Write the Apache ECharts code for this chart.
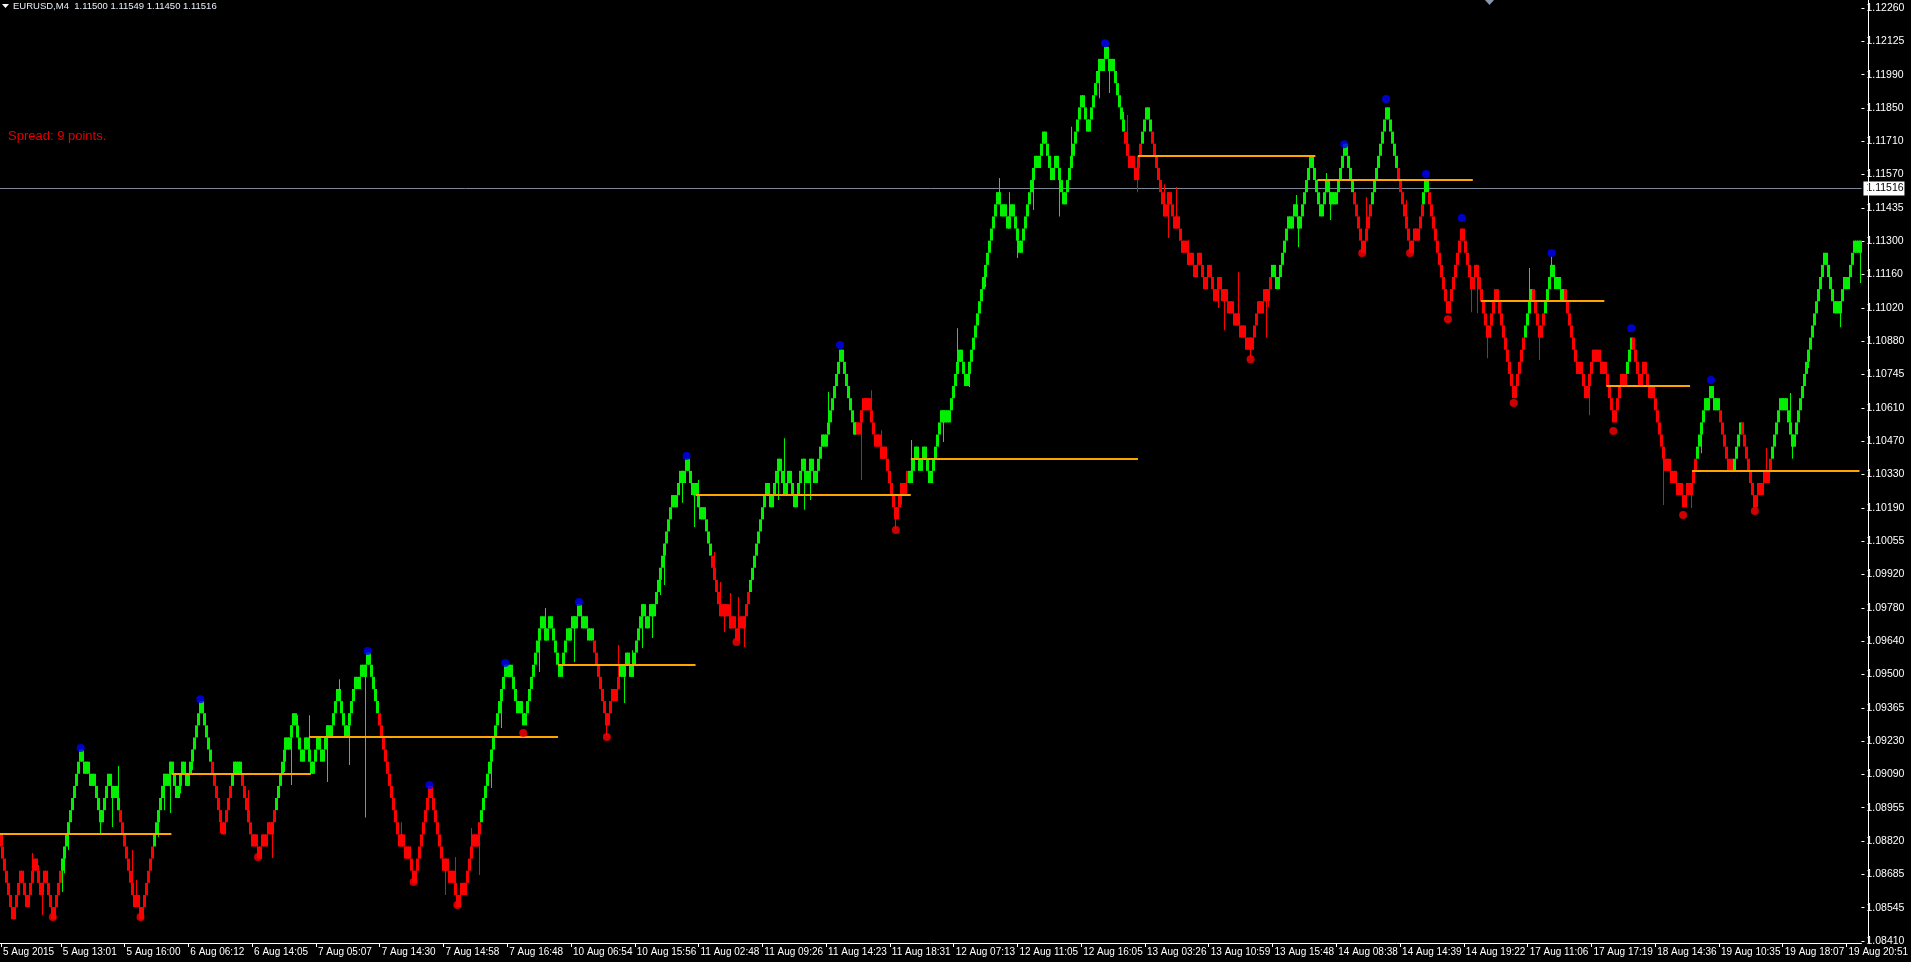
<!DOCTYPE html>
<html><head><meta charset="utf-8">
<script src="https://cdn.jsdelivr.net/npm/echarts@6/dist/echarts.min.js"></script>
<style>html,body{margin:0;padding:0;background:#000;overflow:hidden}#c{width:1911px;height:962px}</style>
</head><body><div id="c"></div>
<script>
// ---------- data ----------
const symbolName = 'EURUSD,M4';
const lastBarOHLC = ['1.11500', '1.11549', '1.11450', '1.11516'];
const spreadText = 'Spread: 9 points.';
const bidPrice = 1.11516;

// renko bricks: level n means price 1.0800 + n * 0.0005 (5-pip box)
const brickBase = 1.0800;
const brickSize = 0.0005;
const firstOpenLevel = 17;
const closeLevels = [
 16,15,14,13,12,11,10,11,12,13,14,13,12,11,12,13,14,15,14,13,12,13,14,13,12,11,10,
 11,12,13,14,15,16,17,18,19,20,21,22,23,24,
 23,22,23,22,21,22,21,20,19,18,19,20,21,22,21,20,21,20,19,18,17,16,15,14,13,12,11,12,11,10,
 11,12,13,14,15,16,17,18,19,20,21,22,21,22,23,22,21,20,21,22,23,22,21,22,23,24,25,26,27,28,
 27,26,25,24,23,22,21,20,19,18,17,18,19,20,21,22,23,22,23,22,21,20,19,18,17,16,17,16,15,16,
 17,16,17,18,17,18,19,20,21,22,23,24,25,24,25,26,27,26,25,24,23,24,25,24,23,22,23,24,25,24,23,24,25,26,25,26,27,28,29,28,27,26,25,26,27,28,29,30,29,30,31,30,31,32,
 31,30,29,28,27,26,25,24,23,22,21,20,19,18,17,16,17,16,15,16,15,14,13,
 14,15,16,17,18,19,20,21,
 20,19,18,17,16,15,14,15,14,13,14,13,12,11,
 12,13,12,13,14,15,16,17,16,17,18,19,20,21,22,23,24,25,26,27,28,29,30,31,
 30,31,30,29,28,27,28,27,26,27,
 28,29,30,31,32,33,34,35,34,33,34,35,34,33,32,31,30,31,32,33,34,33,34,35,34,35,36,
 35,34,35,34,33,34,33,32,31,30,29,28,27,26,
 27,28,29,28,29,30,31,30,31,32,31,30,31,32,33,34,35,36,35,34,35,36,35,36,37,38,39,40,41,42,43,44,45,44,45,46,47,46,47,48,
 47,46,45,46,45,44,43,44,43,42,41,40,39,38,37,36,35,36,35,36,35,34,35,34,33,34,35,34,35,
 36,37,38,39,40,41,42,43,44,45,46,45,44,45,46,47,48,47,46,45,46,47,46,45,44,45,46,47,48,47,46,47,48,47,46,47,48,49,50,49,50,51,52,53,54,55,56,57,
 56,55,54,53,52,51,50,51,50,51,52,53,52,53,52,51,50,49,50,49,48,49,48,47,46,45,44,43,
 44,45,46,45,46,47,46,47,48,49,48,47,48,49,48,47,46,47,48,49,50,51,52,51,52,51,52,53,54,55,56,57,56,55,54,55,56,57,
 58,59,60,61,62,63,64,65,66,67,68,69,70,69,68,69,68,67,68,69,68,67,66,65,66,67,68,69,70,71,72,73,72,73,74,75,
 74,73,72,71,72,73,72,71,70,69,70,71,72,73,74,75,76,77,78,77,76,75,76,77,78,79,80,81,80,81,82,
 81,80,81,80,79,78,77,76,75,74,73,72,73,72,71,72,73,74,75,76,77,76,75,74,73,72,71,70,69,68,69,70,69,68,67,68,67,66,65,
 66,65,64,65,64,63,64,65,64,63,62,63,64,63,62,61,62,63,62,61,62,61,60,61,60,59,60,59,58,59,58,57,58,57,
 58,59,60,61,60,61,62,61,62,63,64,63,62,63,64,65,66,67,68,67,68,69,68,67,68,69,70,71,72,73,72,71,70,69,68,69,70,71,70,69,70,69,70,71,72,73,74,
 73,72,71,70,69,68,67,66,65,66,67,68,69,70,
 71,72,73,74,75,76,77,
 76,75,74,73,72,71,70,69,68,67,66,65,
 66,67,66,67,68,69,70,71,70,
 69,68,67,66,65,64,63,62,61,60,
 61,62,63,64,65,66,67,
 66,65,64,63,62,63,64,63,62,61,60,59,58,59,60,61,62,61,60,59,58,57,56,55,54,53,
 54,55,56,57,58,59,60,61,62,61,60,59,58,59,60,61,62,63,64,
 63,62,63,62,61,62,61,60,59,58,57,56,55,56,55,54,53,54,55,56,57,56,57,56,55,56,55,54,53,52,51,
 52,53,54,55,54,55,56,57,58,
 57,56,55,54,55,56,55,54,53,54,53,52,51,50,49,48,47,48,47,46,47,46,45,46,45,44,
 45,46,45,46,47,48,49,50,51,52,53,52,53,54,
 53,52,53,52,51,50,49,48,47,48,47,48,49,50,51,50,49,48,47,46,45,44,
 45,46,45,46,47,46,47,48,49,50,51,52,53,52,53,52,51,50,49,50,51,52,53,54,55,56,57,58,59,60,61,62,63,64,65,
 64,63,62,61,60,61,60,61,62,63,62,63,64,65,66,65,66,65
];
// bar index where the bar colour flips; starts red (down trend)
const trendChangeBars = [31,60,77,106,116,121,138,190,241,298,311,357,376,430,456,564,573,578,638,679,688,701,714,717,765,769,775,785,816,819,851,863,870,874,889];

// zigzag pivots
const pivotHighBars   = [40, 100, 184, 215, 253, 290, 344, 421, 554, 674, 695, 715, 733, 778, 818, 858];
const pivotHighPrices = [1.09206, 1.09408, 1.09607, 1.09054, 1.09557, 1.09809, 1.10411, 1.10869, 1.12115, 1.11698, 1.11884, 1.11575, 1.11393, 1.11249, 1.10939, 1.10725];
const pivotLowBars    = [26, 70, 129, 207, 229, 262, 304, 369, 449, 627, 683, 707, 726, 759, 809, 844, 880];
const pivotLowPrices  = [1.08509, 1.08509, 1.08757, 1.08653, 1.08559, 1.09268, 1.09252, 1.09644, 1.10106, 1.10811, 1.11249, 1.11249, 1.10976, 1.10630, 1.10514, 1.10168, 1.10184];

// orange horizontal levels
const levelStartBars = [0, 86, 155, 280, 349, 457, 571, 661, 743, 806, 849];
const levelEndBars   = [85, 155, 279, 348, 456, 570, 659, 738, 804, 847, 932];
const levelPrices    = [1.0885, 1.0910, 1.0925, 1.0955, 1.1025, 1.1040, 1.1165, 1.1155, 1.1105, 1.1070, 1.1035];

// visible wicks (bar index, wick end price)
const wickBars = [16,19,21,31,32,34,50,56,59,66,68,79,82,85,90,96,
 110,124,136,142,146,149,155,164,170,175,183,201,223,228,236,240,246,251,270,273,
 288,304,310,313,317,322,327,331,333,342,348,350,358,361,363,366,370,373,390,393,403,406,415,432,437,442,449,452,
 457,473,480,486,494,501,506,510,518,531,537,551,556,563,565,570,584,586,590,596,611,614,621,627,635,636,
 650,651,665,667,685,705,723,738,741,746,767,772,778,797,834,848,853,886,898,899,907,923,933];
const wickPrices = [1.08773,1.08724,1.08517,1.08612,1.0869,1.08785,1.0885,1.0888,1.09132,1.08785,1.08662,1.08839,1.0895,1.08938,1.0902,1.09116,
 1.08856,1.09033,1.08752,1.09107,1.09054,1.09342,1.09342,1.09066,1.0949,1.09136,1.0892,1.0890,1.0860,1.08757,1.08876,1.08682,1.09041,1.09289,1.0952,1.09784,
 1.09561,1.09255,1.09631,1.09392,1.0961,1.09619,1.0966,1.09838,1.09879,1.10218,1.10118,1.10312,1.10015,1.09891,1.09685,1.09846,1.0983,1.09623,1.1023,1.10485,1.1019,1.1023,1.10675,1.10312,1.10683,1.10518,1.1011,1.1021,
 1.10477,1.10469,1.10939,1.10696,1.11108,1.11558,1.115,1.11228,1.11426,1.114,1.1177,1.11888,1.11909,1.11831,1.11818,1.115,1.11533,1.11311,1.11521,1.11302,1.11022,1.1093,1.1117,1.1082,1.109,1.11026,
 1.11488,1.11273,1.11579,1.11385,1.1148,1.11467,1.11187,1.11005,1.11,1.10815,1.11187,1.10807,1.11235,1.1058,1.10209,1.10197,1.10423,1.10444,1.10671,1.104,1.10774,1.10943,1.11125];

// axes
const timeTickBars = [0,30,62,94,126,158,190,222,254,286,318,350,382,414,446,478,510,542,574,606,638,670,702,734,766,798,830,862,894,926];
const timeTickLabels = ['5 Aug 2015','5 Aug 13:01','5 Aug 16:00','6 Aug 06:12','6 Aug 14:05','7 Aug 05:07','7 Aug 14:30','7 Aug 14:58','7 Aug 16:48','10 Aug 06:54','10 Aug 15:56','11 Aug 02:48','11 Aug 09:26','11 Aug 14:23','11 Aug 18:31','12 Aug 07:13','12 Aug 11:05','12 Aug 16:05','13 Aug 03:26','13 Aug 10:59','13 Aug 15:48','14 Aug 08:38','14 Aug 14:39','14 Aug 19:22','17 Aug 11:06','17 Aug 17:19','18 Aug 14:36','19 Aug 10:35','19 Aug 18:07','19 Aug 20:51'];
const priceTickLabels = ['1.08410','1.08545','1.08685','1.08820','1.08955','1.09090','1.09230','1.09365','1.09500','1.09640','1.09780','1.09920','1.10055','1.10190','1.10330','1.10470','1.10610','1.10745','1.10880','1.11020','1.11160','1.11300','1.11435','1.11570','1.11710','1.11850','1.11990','1.12125','1.12260'];
const priceAxisMin = 1.08410;
const priceAxisMax = 1.12260;

// ---------- build ----------
const FONT = '"Liberation Sans", Arial, sans-serif';
const GREEN = '#00f000', RED = '#ff0000';
const toPrice = l => +(brickBase + l * brickSize).toFixed(5);
const wickMap = {};
wickBars.forEach((b, k) => { wickMap[b] = wickPrices[k]; });
const cats = closeLevels.map((_, i) => String(i));
const tickSet = new Set(timeTickBars);
const tickLabelMap = {};
timeTickBars.forEach((b, k) => { tickLabelMap[b] = timeTickLabels[k]; });

let ci = 0, up = 0;
const barData = closeLevels.map((c, i) => {
  while (ci < trendChangeBars.length && trendChangeBars[ci] <= i) { up = 1 - up; ci++; }
  const o = i === 0 ? firstOpenLevel : closeLevels[i - 1];
  return [i, toPrice(o), toPrice(c), up];
});
const levelData = levelPrices.map((p, k) => [levelStartBars[k], levelEndBars[k], p]);
const yStep = (priceAxisMax - priceAxisMin) / (priceTickLabels.length - 1);

const chart = echarts.init(document.getElementById('c'), null, {renderer: 'canvas'});
chart.setOption({
  backgroundColor: '#000',
  animation: false,
  grid: {left: 0, right: 43, top: 8, bottom: 21, containLabel: false},
  xAxis: {
    type: 'category', data: cats, boundaryGap: true, offset: 2,
    axisLine: {show: true, lineStyle: {color: '#fff', width: 1}},
    axisTick: {show: true, alignWithLabel: true, length: 4, interval: (i) => tickSet.has(i), lineStyle: {color: '#fff'}},
    axisLabel: {show: true, interval: (i) => tickSet.has(i), formatter: (v, i) => tickLabelMap[i] || '',
      align: 'left', margin: 4, color: '#fff', fontSize: 10, fontFamily: FONT, padding: [0, 0, 0, 2]},
    splitLine: {show: false}
  },
  yAxis: {
    type: 'value', position: 'right', min: priceAxisMin, max: priceAxisMax, interval: yStep,
    axisLine: {show: false},
    axisTick: {show: true, length: 3, lineStyle: {color: '#fff'}},
    axisLabel: {show: true, margin: 5, color: '#fff', fontSize: 10.5, fontFamily: FONT,
      formatter: (v) => priceTickLabels[Math.round((v - priceAxisMin) / yStep)] || ''},
    splitLine: {show: false}
  },
  series: [
    {
      type: 'custom', name: 'bid', data: [[0, bidPrice]], encode: {x: 0, y: 1}, z: 1, clip: false,
      renderItem: (params, api) => {
        const cs = params.coordSys;
        const y = Math.round(api.coord([0, api.value(1)])[1]) + 0.5;
        return {type: 'group', children: [
          {type: 'line', shape: {x1: cs.x, y1: y, x2: cs.x + cs.width, y2: y}, style: {stroke: '#7d8898', lineWidth: 1}},
          {type: 'rect', shape: {x: cs.x + cs.width + 2, y: y - 7, width: 41, height: 14}, style: {fill: '#fff'}},
          {type: 'text', x: cs.x + cs.width + 5, y: y, style: {text: lastBarOHLC[3], fill: '#000', font: '10.5px ' + FONT, verticalAlign: 'middle'}}
        ]};
      }
    },
    {
      type: 'custom', name: 'levels', data: levelData, encode: {x: [0, 1], y: 2}, z: 3,
      renderItem: (params, api) => {
        const a = api.coord([api.value(0), api.value(2)]);
        const b = api.coord([api.value(1), api.value(2)]);
        const bw = api.size([1, 0])[0];
        return {type: 'line', shape: {x1: a[0] - bw / 2, y1: Math.round(a[1]), x2: b[0] + bw / 2, y2: Math.round(a[1])},
          style: {stroke: '#ffa500', lineWidth: 2}};
      }
    },
    {
      type: 'custom', name: 'bars', data: barData, encode: {x: 0, y: [1, 2]}, z: 2, progressive: 0,
      renderItem: (params, api) => {
        const i = api.value(0), o = api.value(1), c = api.value(2), isUp = api.value(3);
        const top = api.coord([i, Math.max(o, c)]);
        const bot = api.coord([i, Math.min(o, c)]);
        const bw = Math.max(1, api.size([1, 0])[0]) + 1;
        const col = isUp ? GREEN : RED;
        const x0 = Math.round(top[0] - bw / 2);
        const kids = [{type: 'rect', shape: {x: x0, y: top[1], width: bw, height: Math.max(1, bot[1] - top[1])}, style: {fill: col}}];
        const w = wickMap[i];
        if (w !== undefined) {
          const pw = api.coord([i, w]);
          const y1 = Math.min(pw[1], top[1]), y2 = Math.max(pw[1], bot[1]);
          kids.push({type: 'rect', shape: {x: x0 + 1, y: y1, width: 1, height: y2 - y1}, style: {fill: col}});
        }
        return {type: 'group', children: kids};
      }
    },
    {
      type: 'scatter', name: 'highs', data: pivotHighBars.map((b, k) => [b, pivotHighPrices[k]]),
      symbol: 'circle', symbolSize: 8, itemStyle: {color: '#0000ff'}, z: 4
    },
    {
      type: 'scatter', name: 'lows', data: pivotLowBars.map((b, k) => [b, pivotLowPrices[k]]),
      symbol: 'circle', symbolSize: 8, itemStyle: {color: '#ff0000'}, z: 4
    }
  ],
  graphic: [
    {type: 'line', shape: {x1: 1868.5, y1: 0, x2: 1868.5, y2: 943}, style: {stroke: '#fff', lineWidth: 1}, z: 10},
    {type: 'polygon', shape: {points: [[2, 4], [9, 4], [5.5, 8]]}, style: {fill: '#fff'}},
    {type: 'text', left: 13, top: 1, style: {text: symbolName + '  ' + lastBarOHLC.join(' '), fill: '#e8eef8', font: '9.5px ' + FONT}},
    {type: 'text', left: 8, top: 130, style: {text: spreadText, fill: '#e00000', font: '13px ' + FONT}},
    {type: 'polygon', shape: {points: [[1485, 0], [1494, 0], [1489.5, 5]]}, style: {fill: '#8898b0'}}
  ]
});
</script>
</body></html>
